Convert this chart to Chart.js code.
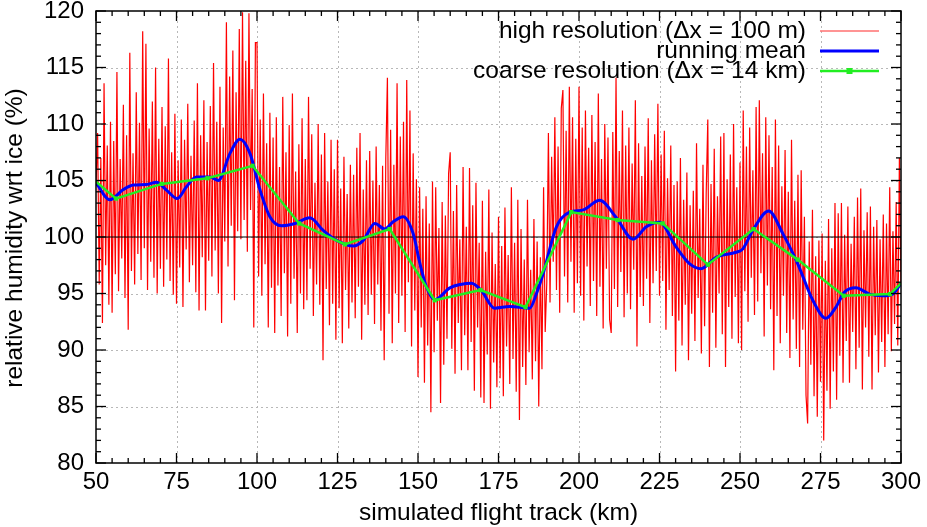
<!DOCTYPE html>
<html>
<head>
<meta charset="utf-8">
<title>relative humidity wrt ice</title>
<script src="https://cdn.jsdelivr.net/npm/chart.js@4.4.1/dist/chart.umd.min.js"></script>
<style>
	html, body { margin: 0; padding: 0; background: #fff; }
	canvas { display: block; }
</style>
</head>
<body>
<canvas id="rh-chart" width="927" height="527"></canvas>
<script>
// high resolution track, one value every 0.5 km starting at 50 km
const hiresStart = 50;
const hiresStep = 0.5;
const hiresRH = [
	104.5, 109.2, 95.8, 107.0, 92.4, 113.6, 97.5, 108.1, 94.0, 110.2,
	93.3, 108.5, 96.7, 114.6, 95.2, 106.9, 98.1, 111.7, 94.6, 109.0,
	91.8, 116.3, 97.0, 107.4, 95.8, 112.8, 98.5, 110.1, 96.2, 118.2,
	99.0, 117.1, 95.3, 109.6, 97.8, 112.0, 96.4, 115.0, 95.0, 108.7,
	97.2, 111.5, 95.6, 109.8, 98.0, 115.8, 96.1, 107.5, 94.9, 110.9,
	94.1, 106.8, 97.3, 110.4, 93.8, 108.6, 98.9, 111.8, 96.0, 107.2,
	97.5, 110.3, 95.1, 113.6, 93.5, 109.0, 98.2, 112.1, 93.5, 108.4,
	97.9, 111.6, 96.5, 115.4, 98.8, 110.2, 95.0, 113.3, 92.4, 109.7,
	99.6, 119.0, 97.4, 114.2, 101.0, 116.5, 94.4, 112.8, 100.5, 118.4,
	99.8, 119.9, 101.5, 115.6, 98.7, 119.8, 102.4, 113.1, 92.0, 117.2,
	117.2, 96.5, 110.4, 94.8, 112.7, 97.6, 108.3, 92.0, 111.0, 95.5,
	108.8, 91.5, 110.6, 95.7, 106.2, 93.0, 112.4, 96.8, 107.5, 91.2,
	109.9, 94.1, 112.7, 96.3, 105.8, 91.5, 108.2, 95.0, 110.5, 93.6,
	106.9, 94.4, 112.4, 97.2, 109.1, 93.0, 104.8, 95.8, 110.0, 94.0,
	107.3, 89.1, 109.2, 95.4, 104.9, 92.2, 108.6, 94.1, 106.0, 90.9,
	108.6, 93.7, 104.3, 90.6, 107.1, 95.3, 103.8, 91.9, 106.4, 94.2,
	105.5, 92.8, 107.9, 95.6, 109.2, 90.9, 104.2, 94.0, 106.8, 93.1,
	107.6, 94.9, 105.0, 92.3, 108.0, 95.8, 104.6, 91.7, 106.3, 89.1,
	107.0, 114.1, 93.2, 109.5, 90.6, 106.4, 95.0, 113.6, 92.4, 108.9,
	94.8, 110.2, 91.6, 113.9, 96.0, 111.2, 90.3, 107.4, 93.5, 105.1,
	87.6, 104.4, 92.0, 102.5, 87.1, 103.6, 90.4, 101.2, 84.5, 104.9,
	89.8, 104.4, 92.6, 100.8, 85.3, 103.1, 88.7, 101.9, 91.0, 105.6,
	107.5, 90.1, 102.3, 87.9, 104.6, 92.4, 99.8, 88.2, 106.2, 91.3,
	100.9, 88.2, 106.1, 90.7, 102.8, 86.4, 104.8, 92.0, 99.5, 85.8,
	103.2, 85.3, 98.7, 89.6, 104.2, 84.8, 100.4, 88.9, 97.6, 86.7,
	101.8, 87.5, 99.2, 85.9, 102.6, 90.3, 98.4, 87.0, 104.4, 89.2,
	99.5, 86.3, 103.3, 83.8, 100.7, 88.5, 98.0, 86.9, 103.3, 89.8,
	97.1, 87.4, 101.6, 89.0, 99.6, 85.0, 98.2, 88.3, 104.4, 91.6,
	96.0, 109.2, 94.2, 107.1, 97.8, 110.6, 95.3, 108.0, 93.3, 111.4,
	113.0, 96.5, 109.4, 94.2, 113.3, 97.8, 110.6, 93.3, 108.7, 95.9,
	113.3, 94.8, 109.7, 92.6, 111.2, 97.4, 107.9, 93.9, 110.8, 96.1,
	108.4, 93.0, 112.7, 95.6, 106.9, 91.9, 110.0, 97.2, 108.8, 92.7,
	91.5, 109.3, 95.4, 114.1, 93.8, 107.6, 96.9, 111.2, 92.9, 108.1,
	95.0, 109.7, 93.6, 106.5, 97.1, 112.1, 90.3, 108.3, 94.7, 105.4,
	93.9, 108.0, 96.3, 110.5, 92.4, 106.8, 95.9, 109.1, 97.0, 111.8,
	94.8, 107.3, 96.1, 109.4, 91.8, 105.2, 95.3, 108.1, 93.0, 104.6,
	88.1, 104.9, 92.6, 107.0, 90.4, 103.3, 94.0, 105.7, 89.1, 102.8,
	93.2, 104.1, 90.8, 108.3, 94.6, 102.5, 89.7, 106.4, 92.1, 103.9,
	110.4, 88.5, 104.7, 93.3, 107.8, 90.2, 103.6, 95.0, 108.9, 91.4,
	109.2, 88.5, 105.1, 93.8, 107.3, 91.0, 110.0, 94.7, 104.4, 90.6,
	106.6, 90.0, 111.2, 95.2, 108.0, 92.5, 109.7, 96.4, 105.9, 93.1,
	111.5, 94.3, 112.1, 96.8, 107.4, 91.2, 110.6, 95.7, 109.0, 93.6,
	106.2, 88.2, 110.4, 93.0, 108.1, 90.6, 104.5, 94.8, 107.7, 91.5,
	104.0, 89.3, 108.6, 92.7, 103.2, 90.1, 105.5, 88.5, 105.9, 91.8,
	101.8, 86.0, 83.5, 99.6, 88.7, 102.4, 85.9, 98.3, 84.1, 99.7,
	87.2, 100.3, 82.0, 97.9, 86.4, 101.6, 84.8, 99.0, 88.1, 103.0,
	85.6, 102.1, 89.5, 103.0, 87.1, 100.2, 90.8, 102.7, 87.1, 99.4,
	91.6, 101.8, 88.3, 103.5, 90.2, 104.3, 86.5, 100.6, 92.0, 102.2,
	89.4, 102.7, 86.5, 100.9, 91.3, 101.5, 88.0, 99.8, 90.7, 102.0,
	88.5, 101.2, 91.4, 104.4, 89.9, 100.5, 92.3, 103.1, 90.4, 107.0,
	95.8
];

// running mean
const meanKm = [50, 54.3, 58.5, 61.6, 65.7, 68.8, 71.9, 75.2, 78.1, 81.2, 85.4, 88, 91.6, 94.7, 97.8,
	100.9, 104, 107.6, 111.8, 116.4, 120.5, 124.7, 129.9, 133, 136.6, 139.7, 142.3, 145.4, 148.5,
	150.6, 152.6, 155.2, 159.9, 163.2, 166.6, 169.7, 173.8, 178.5, 184.7, 186.8, 188.8, 193, 197.1,
	201.3, 206.4, 211.6, 216.8, 220.9, 225, 230.2, 234.3, 237.9, 242.6, 248.8, 250.9, 254, 258.9,
	263.3, 267.9, 272.6, 276.7, 279.8, 282.4, 286, 290.2, 294.3, 297.4, 300];
const meanRH = [104.8, 103.3, 104.2, 104.6, 104.65, 104.85, 104.15, 103.4, 104.45, 105.3, 105.3, 105.0, 107.4, 108.65, 107.4,
	104.2, 101.8, 101.0, 101.2, 101.7, 100.6, 99.7, 99.2, 99.7, 101.2, 100.7, 101.35, 101.8, 100.3,
	97.65, 95.6, 94.45, 95.5, 95.8, 95.9, 95.25, 93.7, 93.85, 93.7, 95.0, 96.7, 100.9, 102.2,
	102.4, 103.25, 101.7, 99.8, 100.9, 101.3, 99.1, 97.65, 97.2, 98.2, 98.65, 98.95, 100.6, 102.3,
	100.3, 97.65, 94.4, 92.8, 93.8, 95.1, 95.5, 94.95, 94.8, 94.95, 95.9];

// coarse resolution (14 km), first and last entries are where the line meets the frame
const coarseKm = [50, 56.2, 70.4, 84.6, 98.6, 113.1, 127.3, 141.2, 155.2, 169.4, 183.4, 197.6, 212.0, 226.0, 240.0, 254.2, 267.9, 282.2, 296.6, 300];
const coarseRH = [104.9, 103.4, 104.7, 105.2, 106.3, 101.2, 99.35, 100.7, 94.4, 95.3, 93.8, 102.2, 101.5, 101.2, 97.55, 100.7, 98.0, 94.8, 94.95, 95.9];

const xTicks = [50, 75, 100, 125, 150, 175, 200, 225, 250, 275, 300];
const yTicks = [80, 85, 90, 95, 100, 105, 110, 115, 120];
const xMinorStep = 5;
const yMinorStep = 1;
const refLevel = 100;

const legendLabels = ['high resolution (\u0394x = 100 m)', 'running mean', 'coarse resolution (\u0394x = 14 km)'];
const xTitle = 'simulated flight track (km)';
const yTitle = 'relative humidity wrt ice (%)';

const FONT = '"Liberation Sans", Arial, Helvetica, sans-serif';

function toPoints(xs, ys) {
	return ys.map(function (v, i) { return { x: xs[i], y: v }; });
}

const hiresPoints = hiresRH.map(function (v, i) {
	return { x: hiresStart + i * hiresStep, y: v };
});

function seg(ctx, x1, y1, x2, y2) {
	ctx.beginPath();
	ctx.moveTo(x1, y1);
	ctx.lineTo(x2, y2);
	ctx.stroke();
}

const gnuplotLook = {
	id: 'gnuplotLook',
	beforeDatasetsDraw: function (chart) {
		const ctx = chart.ctx, a = chart.chartArea, x = chart.scales.x, y = chart.scales.y;
		ctx.save();
		ctx.strokeStyle = '#b8b8b8';
		ctx.lineWidth = 1;
		ctx.setLineDash([2, 3]);
		xTicks.slice(1, -1).forEach(function (v) {
			const px = Math.round(x.getPixelForValue(v)) + 0.5;
			seg(ctx, px, a.top, px, a.bottom);
		});
		yTicks.slice(1, -1).forEach(function (v) {
			const py = Math.round(y.getPixelForValue(v)) + 0.5;
			seg(ctx, a.left, py, a.right, py);
		});
		ctx.restore();
	},
	afterDatasetDraw: function (chart, args) {
		if (args.index !== 0) return;
		const ctx = chart.ctx, a = chart.chartArea, y = chart.scales.y;
		const py = y.getPixelForValue(refLevel);
		ctx.save();
		ctx.strokeStyle = '#000';
		ctx.lineWidth = 1.2;
		seg(ctx, a.left, py, a.right, py);
		ctx.restore();
	},
	afterDraw: function (chart) {
		const ctx = chart.ctx, a = chart.chartArea, x = chart.scales.x, y = chart.scales.y;
		ctx.save();
		ctx.strokeStyle = '#000';
		ctx.lineWidth = 1.3;
		// minor and major ticks, pointing inwards on all four sides
		for (let v = x.min; v <= x.max; v += xMinorStep) {
			const px = x.getPixelForValue(v);
			const len = xTicks.indexOf(v) >= 0 ? 10 : 5;
			seg(ctx, px, a.bottom, px, a.bottom - len);
			seg(ctx, px, a.top, px, a.top + len);
		}
		for (let v = y.min; v <= y.max; v += yMinorStep) {
			const py = y.getPixelForValue(v);
			const len = yTicks.indexOf(v) >= 0 ? 10 : 5;
			seg(ctx, a.left, py, a.left + len, py);
			seg(ctx, a.right, py, a.right - len, py);
		}
		ctx.lineWidth = 1.5;
		ctx.strokeRect(a.left, a.top, a.right - a.left, a.bottom - a.top);

		// axis titles, centred on the plot area
		ctx.fillStyle = '#000';
		ctx.font = '24.5px ' + FONT;
		ctx.textAlign = 'center';
		ctx.textBaseline = 'middle';
		ctx.fillText(xTitle, (a.left + a.right) / 2, 513);
		ctx.save();
		ctx.translate(15, (a.top + a.bottom) / 2 + 1);
		ctx.rotate(-Math.PI / 2);
		ctx.fillText(yTitle, 0, 0);
		ctx.restore();

		// key in the upper right corner
		const sx1 = 820, sx2 = 879, textRight = 806;
		const rows = [31, 51, 71];
		ctx.textAlign = 'right';
		chart.data.datasets.forEach(function (ds, i) {
			ctx.fillStyle = '#000';
			ctx.fillText(legendLabels[i], textRight, rows[i]);
			ctx.strokeStyle = i === 0 ? '#ff7070' : ds.borderColor;
			ctx.lineWidth = i === 0 ? 1.5 : ds.borderWidth;
			seg(ctx, sx1, rows[i], sx2, rows[i]);
			if (i === 2) {
				ctx.fillStyle = ds.pointBackgroundColor;
				ctx.fillRect((sx1 + sx2) / 2 - 3, rows[i] - 3, 6, 6);
			}
		});
		ctx.restore();
	}
};

new Chart(document.getElementById('rh-chart'), {
	type: 'line',
	data: {
		datasets: [{
			label: legendLabels[0],
			data: hiresPoints,
			borderColor: '#ff0000',
			borderWidth: 1.2,
			pointRadius: 0,
			tension: 0,
			order: 3
		}, {
			label: legendLabels[1],
			data: toPoints(meanKm, meanRH),
			borderColor: '#0000ff',
			borderWidth: 3,
			pointRadius: 0,
			cubicInterpolationMode: 'monotone',
			order: 2
		}, {
			label: legendLabels[2],
			data: toPoints(coarseKm, coarseRH),
			borderColor: '#22ee22',
			borderWidth: 2.5,
			pointStyle: 'rect',
			pointRadius: coarseKm.map(function (v, i) { return (i === 0 || i === coarseKm.length - 1) ? 0 : 3; }),
			pointBackgroundColor: '#22ee22',
			pointBorderColor: '#22ee22',
			pointBorderWidth: 0,
			tension: 0,
			order: 1
		}]
	},
	options: {
		responsive: false,
		animation: false,
		layout: { padding: { top: 11, right: 26, left: 0, bottom: 0 } },
		plugins: {
			legend: { display: false },
			tooltip: { enabled: false }
		},
		scales: {
			x: {
				type: 'linear',
				min: 50,
				max: 300,
				afterBuildTicks: function (scale) {
					scale.ticks = xTicks.map(function (v) { return { value: v }; });
				},
				afterFit: function (scale) {
					scale.height = 64;
					scale.paddingLeft = 0;
					scale.paddingRight = 0;
				},
				grid: { display: false, drawTicks: false },
				border: { display: false },
				ticks: {
					padding: 5,
					color: '#000',
					maxRotation: 0,
					autoSkip: false,
					font: { family: FONT, size: 24 }
				}
			},
			y: {
				type: 'linear',
				min: 80,
				max: 120,
				afterBuildTicks: function (scale) {
					scale.ticks = yTicks.map(function (v) { return { value: v }; });
				},
				afterFit: function (scale) {
					scale.width = 96;
					scale.paddingTop = 0;
					scale.paddingBottom = 0;
				},
				grid: { display: false, drawTicks: false },
				border: { display: false },
				ticks: {
					padding: 12,
					color: '#000',
					autoSkip: false,
					font: { family: FONT, size: 24 }
				}
			}
		}
	},
	plugins: [gnuplotLook]
});
</script>
</body>
</html>
